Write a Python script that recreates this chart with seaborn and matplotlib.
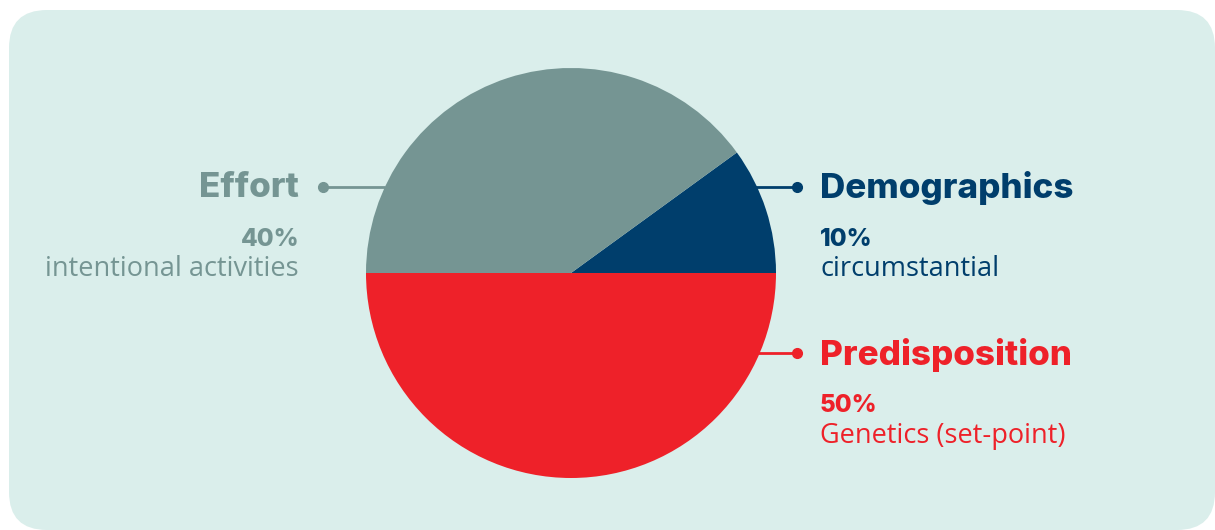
import numpy as np
import matplotlib.pyplot as plt
import matplotlib.patches as patches
import seaborn as sns

# data
labels = ['Demographics', 'Effort', 'Predisposition']
shares = [10, 40, 50]
notes = ['circumstantial', 'intentional activities', 'Genetics (set-point)']
colors = ['#003E6C', '#759593', '#EE2129']

sns.set_style('white')
plt.rcParams['font.family'] = ['Open Sans', 'DejaVu Sans']
heavy = ['Inter', 'DejaVu Sans']

W, H = 1215, 530
fig = plt.figure(figsize=(W / 100, H / 100), dpi=100)
ax = fig.add_axes([0, 0, 1, 1])

bg = patches.FancyBboxPatch((9, 10), W - 9, H - 10,
                            boxstyle='round,pad=0,rounding_size=38',
                            facecolor='#DAEEEB', edgecolor='none', zorder=0)
ax.add_patch(bg)

cx, cy, r = 571, 273, 205
# y axis is inverted, so clockwise in data = counter-clockwise on screen
wedges, _ = ax.pie(shares, colors=colors, startangle=0, counterclock=False,
                   center=(cx, cy), radius=r, frame=True,
                   wedgeprops=dict(linewidth=0, zorder=2))

ax.set_xlim(0, W)
ax.set_ylim(H, 0)
ax.set_aspect('equal')
ax.axis('off')

# leader lines with dots
leaders = [((755, 187), (797, 187)), ((385, 187), (323, 187)), ((758, 353), (797, 353))]
for ((x0, y0), (x1, y1)), c in zip(leaders, colors):
    ax.plot([x0, x1], [y0, y1], color=c, lw=2, zorder=1, solid_capstyle='butt')
    ax.plot([x1], [y1], 'o', color=c, ms=7, zorder=3)

anchors = [(820, 187, 'left'), (299, 187, 'right'), (820, 354, 'left')]
for (x, y, ha), lab, v, n, c in zip(anchors, labels, shares, notes, colors):
    ax.text(x, y + 1, lab, ha=ha, va='center', color=c, fontsize=25.2,
            fontweight='heavy', family=heavy)
    ax.text(x, y + 52, f'{v}%', ha=ha, va='center', color=c, fontsize=17.5,
            fontweight='heavy', family=heavy)
    ax.text(x, y + 82, n, ha=ha, va='center', color=c, fontsize=19.5)

fig.savefig('out.png', dpi=100, facecolor='white')
